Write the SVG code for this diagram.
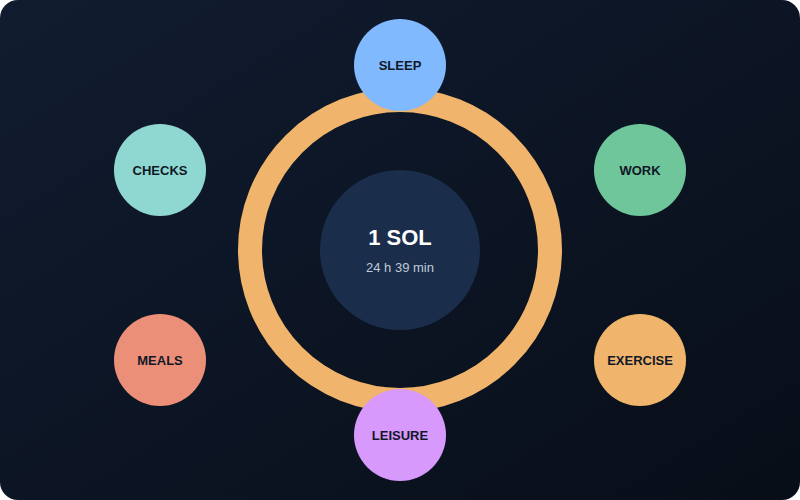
<svg xmlns="http://www.w3.org/2000/svg" width="800" height="500" viewBox="0 0 800 500">
<defs>
<linearGradient id="bg" x1="0" y1="0" x2="1" y2="1"><stop offset="0" stop-color="#111c30"/><stop offset="1" stop-color="#080e18"/></linearGradient>
<style>
.n text{font-family:"Liberation Sans",Arial,sans-serif;font-size:13px;font-weight:bold;fill:#111827;text-anchor:middle;dominant-baseline:central}
</style>
</defs>
<rect width="800" height="500" rx="18" fill="url(#bg)"/>
<g id="connectors">
<circle cx="400" cy="250" r="150" fill="none" stroke="#f0b46c" stroke-width="24"/>
</g>
<g id="center">
<circle cx="400" cy="250" r="80" fill="#1a2e4b"/>
<text x="400" y="237" font-family="Liberation Sans,Arial,sans-serif" font-size="22" font-weight="bold" fill="#ffffff" text-anchor="middle" dominant-baseline="central">1 SOL</text>
<text x="400" y="267" font-family="Liberation Sans,Arial,sans-serif" font-size="13" fill="#c0cad8" text-anchor="middle" dominant-baseline="central">24 h 39 min</text>
</g>
<g id="sleep" class="n"><circle cx="400" cy="65" r="46" fill="#80b9fd"/><text x="400" y="65">SLEEP</text></g>
<g id="work" class="n"><circle cx="640" cy="170" r="46" fill="#6fc69a"/><text x="640" y="170">WORK</text></g>
<g id="exercise" class="n"><circle cx="640" cy="360" r="46" fill="#f0b46c"/><text x="640" y="360">EXERCISE</text></g>
<g id="leisure" class="n"><circle cx="400" cy="435" r="46" fill="#d899fd"/><text x="400" y="435">LEISURE</text></g>
<g id="meals" class="n"><circle cx="160" cy="360" r="46" fill="#eb8f78"/><text x="160" y="360">MEALS</text></g>
<g id="checks" class="n"><circle cx="160" cy="170" r="46" fill="#8fd8d2"/><text x="160" y="170">CHECKS</text></g>
</svg>
